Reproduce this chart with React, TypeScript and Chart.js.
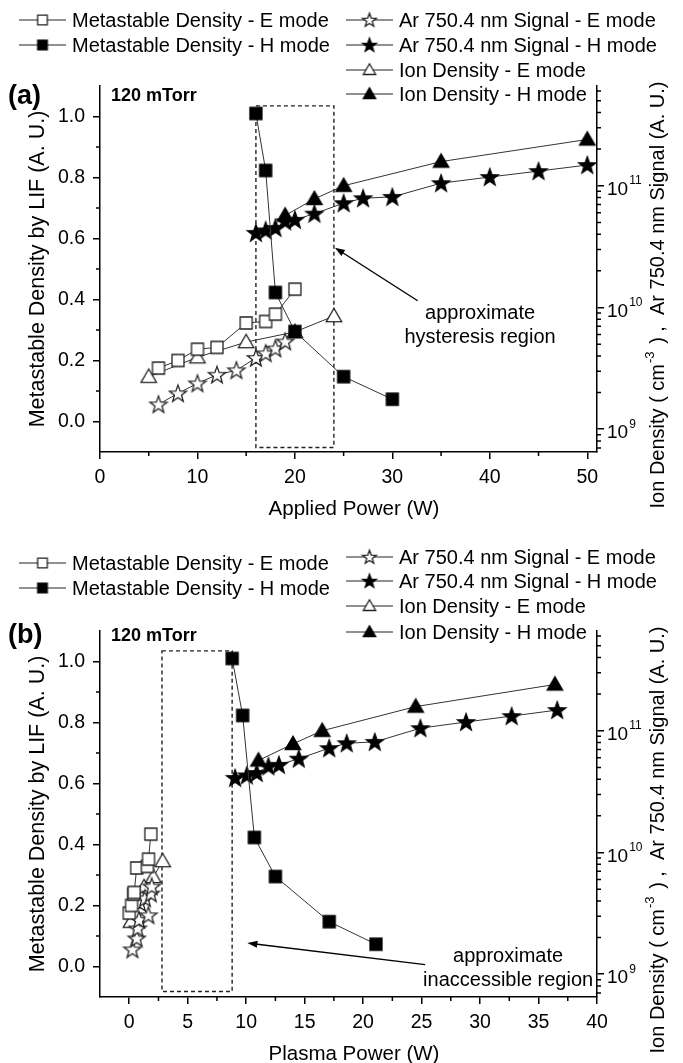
import React, { useEffect, useRef } from 'react';
import { Chart, registerables } from 'chart.js';
Chart.register(...registerables);

const FONT = '"Liberation Sans", Arial, Helvetica, sans-serif';

// ---------- Panel (a): applied power (W) ----------
const aPowerMetE = [6, 8, 10, 12, 15, 17, 18, 20];
const aPowerMetH = [16, 17, 18, 20, 25, 30];
const aPowerArE = [6, 8, 10, 12, 14, 16, 17, 18, 19];
const aPowerArH = [16, 17, 18, 19, 20, 22, 25, 27, 30, 35, 40, 45, 50];
const aPowerIonE = [5, 10, 15, 20, 24];
const aPowerIonH = [19, 22, 25, 35, 50];

// ---------- Panel (b): plasma power (W) ----------
const bPowerMetE = [0.0, 0.2, 0.38, 0.42, 0.64, 1.55, 1.65, 1.85];
const bPowerMetH = [8.8, 9.7, 10.7, 12.5, 17.1, 21.1];
const bPowerArE = [0.27, 0.64, 0.72, 0.84, 1.64, 0.92, 1.35, 1.84, 1.92];
const bPowerArH = [9.05, 10.05, 10.9, 11.9, 12.8, 14.5, 17.1, 18.6, 21.0, 24.9, 28.8, 32.7, 36.6];
const bPowerIonE = [0.15, 0.52, 1.27, 2.06, 2.86];
const bPowerIonH = [11.05, 14.0, 16.5, 24.5, 36.4];

// ---------- measured values (shared by both panels) ----------
const metastableE = [0.175, 0.2, 0.237, 0.243, 0.323, 0.328, 0.352, 0.434];
const metastableH = [1.01, 0.823, 0.423, 0.295, 0.147, 0.073];
const arSignalE = [1.6e9, 1.97e9, 2.38e9, 2.8e9, 3.05e9, 3.85e9, 4.2e9, 4.6e9, 5.25e9];
const arSignalH = [4.1e10, 4.3e10, 4.5e10, 5.1e10, 5.25e10, 5.9e10, 7.2e10, 7.9e10, 8.1e10, 1.05e11, 1.18e11, 1.32e11, 1.48e11];
const ionDensityE = [2.7e9, 3.9e9, 5.2e9, 6.3e9, 8.5e9];
const ionDensityH = [5.7e10, 7.8e10, 1.0e11, 1.58e11, 2.4e11];

// ---------- axis ticks ----------
const leftTicks = [0, 0.2, 0.4, 0.6, 0.8, 1.0];
const leftMinor = [0.1, 0.3, 0.5, 0.7, 0.9];
const rightTicks = [1e9, 1e10, 1e11];
const rightExp = ['9', '10', '11'];
const aXTicks = [0, 10, 20, 30, 40, 50];
const aXMinor = [5, 15, 25, 35, 45];
const bXTicks = [0, 5, 10, 15, 20, 25, 30, 35, 40];
const bXMinor = [2.5, 7.5, 12.5, 17.5, 22.5, 27.5, 32.5, 37.5];

const legendLeft = ['Metastable Density - E mode', 'Metastable Density - H mode'];
const legendRight = ['Ar 750.4 nm Signal - E mode', 'Ar 750.4 nm Signal - H mode', 'Ion Density - E mode', 'Ion Density - H mode'];

type Kind = 'square' | 'triangle' | 'star';

function starPath(ctx: CanvasRenderingContext2D, cx: number, cy: number, R: number, r: number) {
  ctx.beginPath();
  for (let i = 0; i < 10; i++) {
    const ang = -Math.PI / 2 + (i * Math.PI) / 5;
    const rad = i % 2 === 0 ? R : r;
    const x = cx + rad * Math.cos(ang);
    const y = cy + rad * Math.sin(ang);
    if (i === 0) ctx.moveTo(x, y);
    else ctx.lineTo(x, y);
  }
  ctx.closePath();
}

function shapePath(ctx: CanvasRenderingContext2D, kind: Kind, m: number, k: number) {
  if (kind === 'square') {
    const s = 12 * k;
    ctx.beginPath();
    ctx.rect(m - s / 2, m - s / 2, s, s);
  } else if (kind === 'triangle') {
    const s = 15.5 * k;
    const h = (s * Math.sqrt(3)) / 2;
    ctx.beginPath();
    ctx.moveTo(m, m - h * 0.58);
    ctx.lineTo(m + s / 2, m + h * 0.42);
    ctx.lineTo(m - s / 2, m + h * 0.42);
    ctx.closePath();
  } else {
    starPath(ctx, m, m + 0.6 * k, 9 * k, 3.7 * k);
  }
}

function makeMarker(kind: Kind, filled: boolean, k = 1): HTMLCanvasElement {
  const size = 24;
  const c = document.createElement('canvas');
  c.width = size;
  c.height = size;
  const ctx = c.getContext('2d')!;
  shapePath(ctx, kind, size / 2, k);
  ctx.fillStyle = filled ? '#000' : '#fff';
  ctx.strokeStyle = filled ? '#000' : '#222';
  ctx.lineWidth = 1.3;
  ctx.lineJoin = 'miter';
  ctx.fill();
  ctx.stroke();
  return c;
}

type PanelCfg = {
  top: number;
  height: number;
  xMin: number;
  xMax: number;
  xTicks: number[];
  xMinor: number[];
  xTitle: string;
  label: string;
  labelY: number;
  pressureY: number;
  legLeftY: number[];
  legRightY: number[];
  box: [number, number, number, number];
  arrowTail: [number, number];
  arrowTip: [number, number];
  noteX: number;
  noteY: [number, number];
  noteText: [string, string];
  series: { x: number[]; y: number[]; kind: Kind; filled: boolean; axis: 'y' | 'y2' }[];
};

const panelA: PanelCfg = {
  top: 0,
  height: 545,
  xMin: 0,
  xMax: 51,
  xTicks: aXTicks,
  xMinor: aXMinor,
  xTitle: 'Applied Power (W)',
  label: '(a)',
  labelY: 97,
  pressureY: 96,
  legLeftY: [20, 45],
  legRightY: [20, 45, 70, 94],
  box: [16, 24, -0.085, 1.035],
  arrowTail: [32.6, 0.396],
  arrowTip: [24.1, 0.57],
  noteX: 39.0,
  noteY: [0.353, 0.274],
  noteText: ['approximate', 'hysteresis region'],
  series: [
    { x: aPowerMetE, y: metastableE, kind: 'square', filled: false, axis: 'y' },
    { x: aPowerMetH, y: metastableH, kind: 'square', filled: true, axis: 'y' },
    { x: aPowerArE, y: arSignalE, kind: 'star', filled: false, axis: 'y2' },
    { x: aPowerArH, y: arSignalH, kind: 'star', filled: true, axis: 'y2' },
    { x: aPowerIonE, y: ionDensityE, kind: 'triangle', filled: false, axis: 'y2' },
    { x: aPowerIonH, y: ionDensityH, kind: 'triangle', filled: true, axis: 'y2' },
  ],
};

const panelB: PanelCfg = {
  top: 545,
  height: 518,
  xMin: -2.5,
  xMax: 40,
  xTicks: bXTicks,
  xMinor: bXMinor,
  xTitle: 'Plasma Power (W)',
  label: '(b)',
  labelY: 91,
  pressureY: 91,
  legLeftY: [18, 43],
  legRightY: [12, 36, 61, 87],
  box: [2.8, 8.8, -0.082, 1.035],
  arrowTail: [25.3, 0.006],
  arrowTip: [10.1, 0.077],
  noteX: 32.4,
  noteY: [0.032, -0.047],
  noteText: ['approximate', 'inaccessible region'],
  series: [
    { x: bPowerMetE, y: metastableE, kind: 'square', filled: false, axis: 'y' },
    { x: bPowerMetH, y: metastableH, kind: 'square', filled: true, axis: 'y' },
    { x: bPowerArE, y: arSignalE, kind: 'star', filled: false, axis: 'y2' },
    { x: bPowerArH, y: arSignalH, kind: 'star', filled: true, axis: 'y2' },
    { x: bPowerIonE, y: ionDensityE, kind: 'triangle', filled: false, axis: 'y2' },
    { x: bPowerIonH, y: ionDensityH, kind: 'triangle', filled: true, axis: 'y2' },
  ],
};

function drawArrow(ctx: CanvasRenderingContext2D, x0: number, y0: number, x1: number, y1: number) {
  const ang = Math.atan2(y1 - y0, x1 - x0);
  const L = 10;
  const W = 3.5;
  ctx.save();
  ctx.strokeStyle = '#000';
  ctx.fillStyle = '#000';
  ctx.lineWidth = 1.4;
  ctx.beginPath();
  ctx.moveTo(x0, y0);
  ctx.lineTo(x1 - L * 0.8 * Math.cos(ang), y1 - L * 0.8 * Math.sin(ang));
  ctx.stroke();
  ctx.beginPath();
  ctx.moveTo(x1, y1);
  ctx.lineTo(x1 - L * Math.cos(ang) + W * Math.sin(ang), y1 - L * Math.sin(ang) - W * Math.cos(ang));
  ctx.lineTo(x1 - L * Math.cos(ang) - W * Math.sin(ang), y1 - L * Math.sin(ang) + W * Math.cos(ang));
  ctx.closePath();
  ctx.fill();
  ctx.restore();
}

function Panel({ cfg }: { cfg: PanelCfg }) {
  const ref = useRef<HTMLCanvasElement>(null);

  useEffect(() => {
    const canvas = ref.current!;
    const markers = cfg.series.map((s) => makeMarker(s.kind, s.filled, 1));
    const legMarkers = cfg.series.map((s) => makeMarker(s.kind, s.filled, 0.8));

    const axisGrid = {
      display: true,
      drawOnChartArea: false,
      drawTicks: true,
      tickLength: 7,
      color: '#000',
      lineWidth: 1.5,
    };
    const axisBorder = { display: true, color: '#000', width: 1.5 };

    const overlay = {
      id: 'overlay',
      beforeDatasetsDraw(chart: any) {
        const ctx = chart.ctx as CanvasRenderingContext2D;
        const xs = chart.scales.x;
        const ys = chart.scales.y;
        const [bx0, bx1, by0, by1] = cfg.box;
        const x0 = xs.getPixelForValue(bx0);
        const x1 = xs.getPixelForValue(bx1);
        const y0 = ys.getPixelForValue(by0);
        const y1 = ys.getPixelForValue(by1);
        ctx.save();
        ctx.strokeStyle = '#222';
        ctx.lineWidth = 1.4;
        ctx.setLineDash([4, 3]);
        ctx.strokeRect(x0, y1, x1 - x0, y0 - y1);
        ctx.restore();
      },
      afterDraw(chart: any) {
        const ctx = chart.ctx as CanvasRenderingContext2D;
        const area = chart.chartArea;
        const xs = chart.scales.x;
        const ys = chart.scales.y;
        const y2 = chart.scales.y2;
        ctx.save();
        ctx.strokeStyle = '#000';
        ctx.lineWidth = 1.5;
        // minor ticks
        ctx.beginPath();
        for (const v of leftMinor) {
          const p = ys.getPixelForValue(v);
          ctx.moveTo(area.left, p);
          ctx.lineTo(area.left - 4, p);
        }
        for (const v of cfg.xMinor) {
          const p = xs.getPixelForValue(v);
          ctx.moveTo(p, area.bottom);
          ctx.lineTo(p, area.bottom + 4);
        }
        for (let d = 8; d <= 11; d++) {
          for (let k = 2; k <= 9; k++) {
            const v = k * Math.pow(10, d);
            if (v < y2.min || v > y2.max) continue;
            const p = y2.getPixelForValue(v);
            ctx.moveTo(area.right, p);
            ctx.lineTo(area.right + 4, p);
          }
        }
        ctx.stroke();

        ctx.fillStyle = '#000';
        // right axis labels 10^n
        rightTicks.forEach((v, i) => {
          const p = y2.getPixelForValue(v);
          const x = area.right + 10;
          ctx.font = `19px ${FONT}`;
          ctx.textAlign = 'left';
          ctx.textBaseline = 'middle';
          ctx.fillText('10', x, p + 4);
          const w = ctx.measureText('10').width;
          ctx.font = `12px ${FONT}`;
          ctx.fillText(rightExp[i], x + w + 1, p - 5);
        });

        // left axis title
        ctx.save();
        ctx.translate(44, (area.top + area.bottom) / 2);
        ctx.rotate(-Math.PI / 2);
        ctx.font = `21.5px ${FONT}`;
        ctx.textAlign = 'center';
        ctx.textBaseline = 'alphabetic';
        ctx.fillText('Metastable Density by LIF (A. U.)', 0, 0);
        ctx.restore();

        // right axis title (with superscript)
        ctx.save();
        ctx.translate(664, (area.top + area.bottom) / 2 + 26);
        ctx.rotate(-Math.PI / 2);
        ctx.textBaseline = 'alphabetic';
        ctx.textAlign = 'left';
        const p1 = 'Ion Density ( cm';
        const sup = '-3';
        const p2 = ' ) ,  Ar 750.4 nm Signal (A. U.)';
        ctx.font = `20px ${FONT}`;
        const w1 = ctx.measureText(p1).width;
        const w3 = ctx.measureText(p2).width;
        ctx.font = `13px ${FONT}`;
        const w2 = ctx.measureText(sup).width + 3;
        const total = w1 + w2 + w3;
        let cx = -total / 2;
        ctx.font = `20px ${FONT}`;
        ctx.fillText(p1, cx, 0);
        cx += w1 + 1;
        ctx.font = `13px ${FONT}`;
        ctx.fillText(sup, cx, -10);
        cx += w2 - 1;
        ctx.font = `20px ${FONT}`;
        ctx.fillText(p2, cx, 0);
        ctx.restore();

        // x title
        ctx.font = `20.5px ${FONT}`;
        ctx.textAlign = 'center';
        ctx.textBaseline = 'alphabetic';
        ctx.fillText(cfg.xTitle, 354, 515);

        // panel label and pressure
        ctx.font = `bold 27px ${FONT}`;
        ctx.textAlign = 'left';
        ctx.textBaseline = 'middle';
        ctx.fillText(cfg.label, 8, cfg.labelY);
        ctx.font = `bold 18px ${FONT}`;
        ctx.fillText('120 mTorr', 111, cfg.pressureY);

        // legend
        const drawEntry = (i: number, xl: number, y: number, text: string) => {
          ctx.strokeStyle = '#222';
          ctx.lineWidth = 1;
          ctx.beginPath();
          ctx.moveTo(xl, y);
          ctx.lineTo(xl + 47, y);
          ctx.stroke();
          const m = legMarkers[i];
          ctx.drawImage(m, xl + 23.5 - m.width / 2, y - m.height / 2);
          ctx.font = `20px ${FONT}`;
          ctx.textAlign = 'left';
          ctx.textBaseline = 'middle';
          ctx.fillStyle = '#000';
          ctx.fillText(text, xl + 53, y + 1);
        };
        legendLeft.forEach((t, i) => drawEntry(i, 19, cfg.legLeftY[i], t));
        legendRight.forEach((t, i) => drawEntry(i + 2, 346, cfg.legRightY[i], t));

        // annotation
        const tx = xs.getPixelForValue(cfg.arrowTail[0]);
        const ty = ys.getPixelForValue(cfg.arrowTail[1]);
        const hx = xs.getPixelForValue(cfg.arrowTip[0]);
        const hy = ys.getPixelForValue(cfg.arrowTip[1]);
        drawArrow(ctx, tx, ty, hx, hy);
        ctx.font = `20px ${FONT}`;
        ctx.textAlign = 'center';
        ctx.textBaseline = 'middle';
        ctx.fillStyle = '#000';
        const nx = xs.getPixelForValue(cfg.noteX);
        ctx.fillText(cfg.noteText[0], nx, ys.getPixelForValue(cfg.noteY[0]));
        ctx.fillText(cfg.noteText[1], nx, ys.getPixelForValue(cfg.noteY[1]));
        ctx.restore();
      },
    };

    const chart = new Chart(canvas, {
      type: 'scatter',
      data: {
        datasets: cfg.series.map((s, i) => ({
          data: s.x.map((x, j) => ({ x, y: s.y[j] })),
          yAxisID: s.axis,
          showLine: true,
          borderColor: '#333',
          borderWidth: 1,
          pointStyle: markers[i] as any,
          pointRadius: 8,
          pointHoverRadius: 8,
          backgroundColor: s.filled ? '#000' : '#fff',
        })),
      },
      options: {
        animation: false,
        responsive: false,
        devicePixelRatio: 1,
        events: [],
        layout: { padding: { top: 86, left: 0, right: 0, bottom: 0 } },
        plugins: { legend: { display: false }, tooltip: { enabled: false } },
        scales: {
          x: {
            type: 'linear',
            position: 'bottom',
            min: cfg.xMin,
            max: cfg.xMax,
            bounds: 'data',
            afterBuildTicks: (s: any) => {
              s.ticks = cfg.xTicks.map((v) => ({ value: v }));
            },
            afterFit: (s: any) => {
              s.height = cfg.height - 452;
            },
            ticks: {
              autoSkip: false,
              maxRotation: 0,
              padding: 7,
              color: '#000',
              font: { family: FONT, size: 19.5 },
              callback: (v: any) => String(v),
            },
            grid: axisGrid,
            border: axisBorder,
          },
          y: {
            type: 'linear',
            position: 'left',
            min: -0.1,
            max: 1.1,
            bounds: 'data',
            afterBuildTicks: (s: any) => {
              s.ticks = leftTicks.map((v) => ({ value: v }));
            },
            afterFit: (s: any) => {
              s.width = 100;
            },
            ticks: {
              autoSkip: false,
              padding: 8,
              color: '#000',
              font: { family: FONT, size: 19.5 },
              callback: (v: any) => Number(v).toFixed(1),
            },
            grid: axisGrid,
            border: axisBorder,
          },
          y2: {
            type: 'logarithmic',
            position: 'right',
            min: 6.5e8,
            max: 6.6e11,
            bounds: 'data',
            afterBuildTicks: (s: any) => {
              s.ticks = rightTicks.map((v) => ({ value: v, major: true }));
            },
            afterFit: (s: any) => {
              s.width = 683 - 597;
            },
            ticks: { display: false },
            grid: axisGrid,
            border: axisBorder,
          },
        },
      } as any,
      plugins: [overlay],
    });
    return () => chart.destroy();
  }, [cfg]);

  return (
    <canvas
      ref={ref}
      width={683}
      height={cfg.height}
      style={{ position: 'absolute', left: 0, top: cfg.top, width: 683, height: cfg.height }}
    />
  );
}

export default function App() {
  return (
    <div style={{ position: 'absolute', left: 0, top: 0, width: 683, height: 1063, background: '#fff', overflow: 'hidden' }}>
      <Panel cfg={panelA} />
      <Panel cfg={panelB} />
    </div>
  );
}
